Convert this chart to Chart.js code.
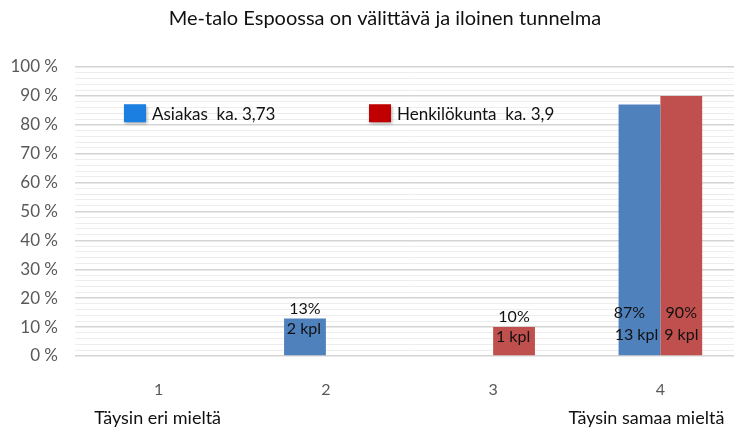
<!DOCTYPE html>
<html>
<head>
<meta charset="utf-8">
<script src="https://cdn.jsdelivr.net/npm/chart.js@4"></script>
<style>
  html, body { margin: 0; padding: 0; background: #fff; overflow: hidden; }
  #wrap { width: 745px; height: 429px; }
</style>
</head>
<body>
<div id="wrap"><canvas id="myChart"></canvas></div>
<script>
const kategoriat = ['1', '2', '3', '4'];
const asiakas = [0, 13, 0, 87];
const henkilokunta = [0, 0, 10, 90];
const asiakasPros = ['', '13%', '', '87%'];
const asiakasKpl = ['', '2 kpl', '', '13 kpl'];
const henkPros = ['', '', '10%', '90%'];
const henkKpl = ['', '', '1 kpl', '9 kpl'];
const legendat = ['Asiakas  ka. 3,73', 'Henkilökunta  ka. 3,9'];
const legendVarit = ['#1a7fe0', '#c00000'];
const otsikko = 'Me-talo Espoossa on välittävä ja iloinen tunnelma';
const alaTekstit = ['Täysin eri mieltä', 'Täysin samaa mieltä'];

const fontti = 'Lato, "Open Sans", sans-serif';

// arvot palkkien päälle / sisään
const arvoPlugin = {
  id: 'arvot',
  afterDatasetsDraw(chart) {
    const c = chart.ctx;
    const tekstit = [[asiakasPros, asiakasKpl], [henkPros, henkKpl]];
    c.save();
    c.font = '16px ' + fontti;
    c.fillStyle = '#111';
    c.textAlign = 'center';
    c.textBaseline = 'middle';
    chart.data.datasets.forEach((ds, i) => {
      chart.getDatasetMeta(i).data.forEach((bar, j) => {
        const p = tekstit[i][0][j], k = tekstit[i][1][j];
        if (!p) return;
        if (ds.data[j] > 50) {
          const dx = i === 0 ? -10 : 0;
          c.fillText(p, bar.x + dx, bar.base - 42);
          c.fillText(k, bar.x + (i === 0 ? -3 : 0), bar.base - 20);
        } else {
          c.fillText(p, bar.x, bar.y - 10);
          c.fillText(k, bar.x - 1, bar.y + 10);
        }
      });
    });
    c.restore();
  }
};

// otsikko, selite kaavion sisällä ja alatekstit
const selitePlugin = {
  id: 'selite',
  afterDraw(chart) {
    const c = chart.ctx;
    const x = chart.scales.x;
    const y = chart.scales.y;
    const yy = y.getPixelForValue(84);
    const paikat = [124, 369];
    c.save();
    c.textBaseline = 'middle';
    c.textAlign = 'center';
    c.fillStyle = '#111';
    c.font = '20px ' + fontti;
    c.fillText(otsikko, 385, 19);
    c.textAlign = 'left';
    c.font = '17px ' + fontti;
    legendat.forEach((t, i) => {
      c.shadowColor = 'rgba(0,0,0,0.35)';
      c.shadowBlur = 3;
      c.shadowOffsetX = 1;
      c.shadowOffsetY = 2;
      c.fillStyle = legendVarit[i];
      c.fillRect(paikat[i], yy - 9, 22, 18);
      c.shadowColor = 'transparent';
      c.fillStyle = '#111';
      c.fillText(t, paikat[i] + 28, yy + 1);
    });
    c.textAlign = 'center';
    c.font = '18px ' + fontti;
    c.fillText(alaTekstit[0], x.getPixelForValue(0) - 1, 418);
    c.fillText(alaTekstit[1], x.getPixelForValue(3) - 14, 418);
    c.restore();
  }
};

const ctx = document.getElementById('myChart').getContext('2d');
const myChart = new Chart(ctx, {
  type: 'bar',
  data: {
    labels: kategoriat,
    datasets: [
      { label: legendat[0], data: asiakas, backgroundColor: '#4f81bd' },
      { label: legendat[1], data: henkilokunta, backgroundColor: '#c0504d' }
    ]
  },
  options: {
    responsive: true,
    maintainAspectRatio: false,
    animation: false,
    categoryPercentage: 0.5,
    barPercentage: 1,
    layout: { padding: { left: 0, right: 1, bottom: 0, top: 67 } },
    plugins: {
      legend: { display: false },
      tooltip: { enabled: false },
      title: { display: false }
    },
    scales: {
      x: {
        grid: { display: false },
        border: { display: false },
        ticks: { color: '#595959', font: { family: fontti, size: 16 }, padding: 16 },
        afterFit(s) { s.height = 73; }
      },
      y: {
        min: 0,
        max: 100,
        border: { display: false },
        grid: {
          drawTicks: false,
          color: c => (c.tick.value % 10 === 0 ? '#d4d4d4' : '#ededed'),
          lineWidth: c => (c.tick.value % 10 === 0 ? 1.5 : 1)
        },
        ticks: {
          stepSize: 2,
          autoSkip: false,
          padding: 17,
          color: '#595959',
          font: { family: fontti, size: 17 },
          callback: v => (v % 10 === 0 ? v + ' %' : '')
        },
        afterFit(s) { s.width = 75; }
      }
    }
  },
  plugins: [arvoPlugin, selitePlugin]
});
</script>
</body>
</html>
